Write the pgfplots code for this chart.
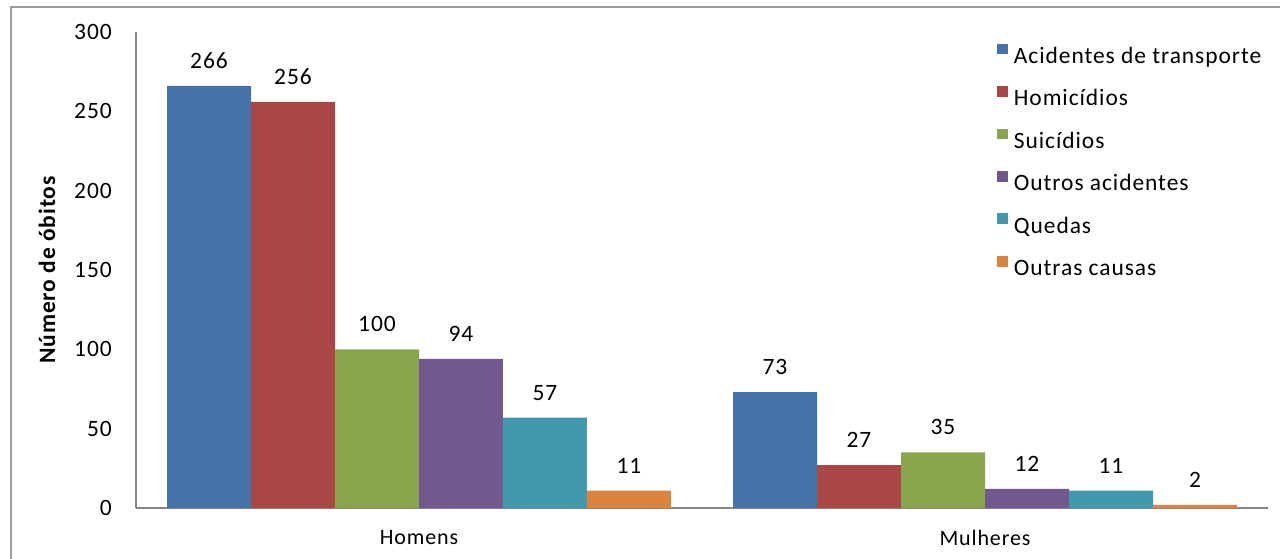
\documentclass[border=0pt]{standalone}
\usepackage{fontspec}
\setmainfont[LetterSpace=4]{Carlito}
\usepackage{pgfplots}
\pgfplotsset{compat=1.18}

\definecolor{cBlue}{HTML}{4572A7}
\definecolor{cRed}{HTML}{AA4643}
\definecolor{cGreen}{HTML}{89A54E}
\definecolor{cPurple}{HTML}{71588F}
\definecolor{cTeal}{HTML}{4198AF}
\definecolor{cOrange}{HTML}{DB843D}
\definecolor{axisgray}{HTML}{868686}
\definecolor{framegray}{HTML}{9C9C9C}

\begin{document}
\fontsize{17.6pt}{21pt}\selectfont
\begin{tikzpicture}
\begin{axis}[
    at={(0,0)}, anchor=south west,
    scale only axis,
    width=849pt, height=357pt,
    ybar=0pt, bar width=0.1484,
    xmin=-0.5, xmax=1.5,
    ymin=0, ymax=300,
    xtick={0,1},
    xticklabels={Homens,Mulheres},
    ytick={0,50,...,300},
    major tick length=0pt,
    tick style={draw=none},
    axis x line*=bottom,
    axis y line*=left,
    axis line style={-, draw=axisgray, line width=0.9pt},
    /pgf/number format/assume math mode=true,
    yticklabel style={anchor=east, inner sep=0pt, xshift=-18pt},
    xticklabel style={anchor=center, inner sep=0pt, yshift=-22.5pt, font=\fontsize{16.5pt}{20pt}\selectfont},
    ylabel={\bfseries Número de óbitos},
    ylabel style={at={(axis description cs:-0.0786,0.5)}, anchor=center},
    nodes near coords,
    every node near coord/.append style={anchor=center, yshift=18.75pt, inner sep=0pt},
    legend cell align=left,
    legend image code/.code={\fill[#1] (0pt,2.5pt) rectangle (8.2pt,10.6pt);},
    legend style={at={(0.7606,0.9757)}, anchor=north west, draw=none, fill=none,
        inner sep=0pt, outer sep=0pt, row sep=12.5pt, column sep=4.5pt,
        nodes={inner sep=0pt, text height=13pt, text depth=4.5pt}},
]
\addplot[fill=cBlue, draw=none, bar shift=-0.371] coordinates {(0,266) (1,73)};
\addplot[fill=cRed, draw=none, bar shift=-0.2226] coordinates {(0,256) (1,27)};
\addplot[fill=cGreen, draw=none, bar shift=-0.0742] coordinates {(0,100) (1,35)};
\addplot[fill=cPurple, draw=none, bar shift=0.0742] coordinates {(0,94) (1,12)};
\addplot[fill=cTeal, draw=none, bar shift=0.2226] coordinates {(0,57) (1,11)};
\addplot[fill=cOrange, draw=none, bar shift=0.371] coordinates {(0,11) (1,2)};
\legend{Acidentes de transporte, Homicídios, Suicídios, Outros acidentes, Quedas, Outras causas}
\end{axis}
\draw[framegray, line width=1.1pt] (-93.75pt,-38.25pt) -- (-93.75pt,375.75pt) -- (858pt,375.75pt);
\pgfresetboundingbox
\path (-102pt,-38.25pt) rectangle (858pt,381pt);
\end{tikzpicture}
\end{document}
